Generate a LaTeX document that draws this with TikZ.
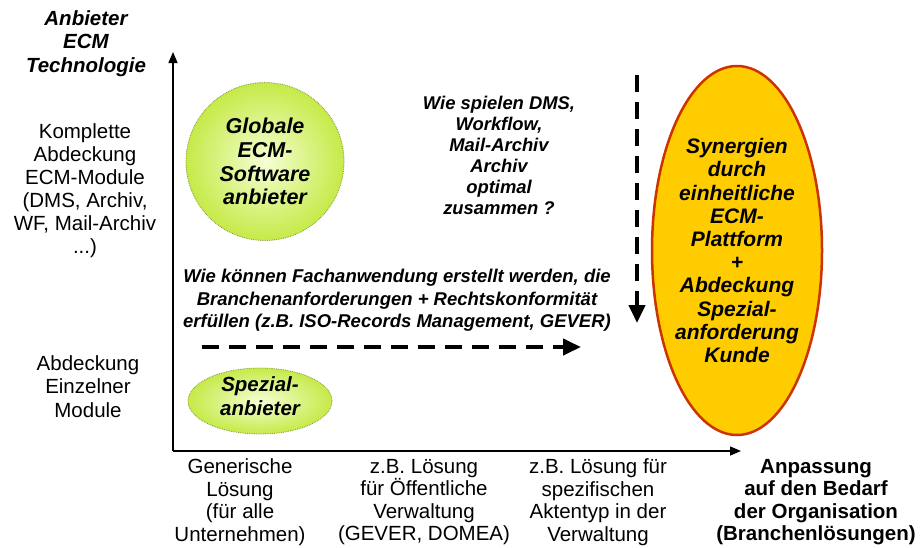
\documentclass[tikz,border=0pt]{standalone}
\usepackage{fontspec}
\setmainfont{Liberation Sans}
\usetikzlibrary{arrows.meta,shapes.geometric}
\definecolor{gin}{RGB}{244,255,212}
\definecolor{gout}{RGB}{198,234,72}
\definecolor{gbord}{RGB}{130,150,60}
\definecolor{ofill}{RGB}{255,204,0}
\definecolor{obord}{RGB}{204,51,0}
\begin{document}
\begin{tikzpicture}[x=1pt,y=-1pt,
  rg/.style 2 args={font=\fontsize{#1}{#2}\selectfont, align=center, inner sep=0pt},
  bd/.style 2 args={font=\fontsize{#1}{#2}\selectfont\bfseries, align=center, inner sep=0pt},
  bi/.style 2 args={font=\fontsize{#1}{#2}\selectfont\bfseries\itshape, align=center, inner sep=0pt},
  ball/.style={circle, inner sep=0pt, shading=radial, inner color=gin, outer color=gout, draw=gbord, densely dotted, line width=0.8pt},
  spez/.style={ellipse, inner sep=0pt, shading=radial, inner color=gin, outer color=gout, draw=gbord, densely dotted, line width=0.8pt},
  plat/.style={ellipse, inner sep=0pt, fill=ofill, draw=obord, line width=2.5pt},
  axis/.style={line width=1.5pt, -{Triangle[length=11pt,width=9pt]}},
  dasharrow/.style={line width=4pt, dash pattern=on 17pt off 10pt, -{Triangle[length=18pt,width=16pt]}}
]
\useasboundingbox (0,0) rectangle (920,547);

% shapes
\node[ball, minimum size=158pt] (glob) at (265,161.5) {};
\node[spez, minimum width=144pt, minimum height=66pt] (spe) at (260,401) {};
\node[plat, minimum width=170pt, minimum height=369pt] (pla) at (737,250.5) {};

% texts in shapes
\node[bi={21.5}{23.7}] (globt) at (glob.center) {Globale\\ECM-\\Software\\anbieter};
\node[bi={20.5}{24}] (spet) at ([yshift=5pt]spe.center) {Spezial-\\anbieter};
\node[bi={21}{23.2}] (plat) at (pla.center) {Synergien\\durch\\einheitliche\\ECM-\\Plattform\\+\\Abdeckung\\Spezial-\\anforderung\\Kunde};

% axes
\coordinate (O) at (173,451);
\coordinate (ytop) at (173,52);
\coordinate (xend) at (741,451);
\draw[axis] (O) -- (ytop);
\draw[axis] (O) -- (xend);

% dashed arrows
\coordinate (hs) at (202,347);
\coordinate (he) at (581,347);
\coordinate (vs) at (637,75);
\coordinate (ve) at (637,323);
\draw[dasharrow] (hs) -- (he);
\draw[dasharrow] (vs) -- (ve);

% axis labels
\node[bi={20.5}{23.5}] (ytitle) at (86,43.5) {Anbieter\\ECM\\Technologie};
\node[rg={20.5}{23}] (ylab1) at (85,190.5) {Komplette\\Abdeckung\\ECM-Module\\(DMS, Archiv,\\WF, Mail-Archiv\\...)};
\node[rg={20.5}{23.5}] (ylab2) at (88,386.5) {Abdeckung\\Einzelner\\Module};

\node[rg={20.5}{22.5}] (xlab1) at (240,502) {Generische\\Lösung\\(für alle\\Unternehmen)};
\node[rg={20.5}{22.5}] (xlab2) at (424,502) {z.B. Lösung\\für Öffentliche\\Verwaltung\\(GEVER, DOMEA)};
\node[rg={20.5}{22.5}] (xlab3) at (598,502) {z.B. Lösung für\\spezifischen\\Aktentyp in der\\Verwaltung};
\node[bd={20.5}{22.5}] (xlab4) at (816,502) {Anpassung\\auf den Bedarf\\der Organisation\\(Branchenlösungen)};

% questions
\node[bi={18.5}{22.5}] (qh) at (397,300.5) {Wie können Fachanwendung erstellt werden, die\\Branchenanforderungen + Rechtskonformität\\erfüllen (z.B. ISO-Records Management, GEVER)};
\node[bi={18.4}{21}] (qv) at (499,155.5) {Wie spielen DMS,\\Workflow,\\Mail-Archiv\\Archiv\\optimal\\zusammen ?};
\end{tikzpicture}
\end{document}
